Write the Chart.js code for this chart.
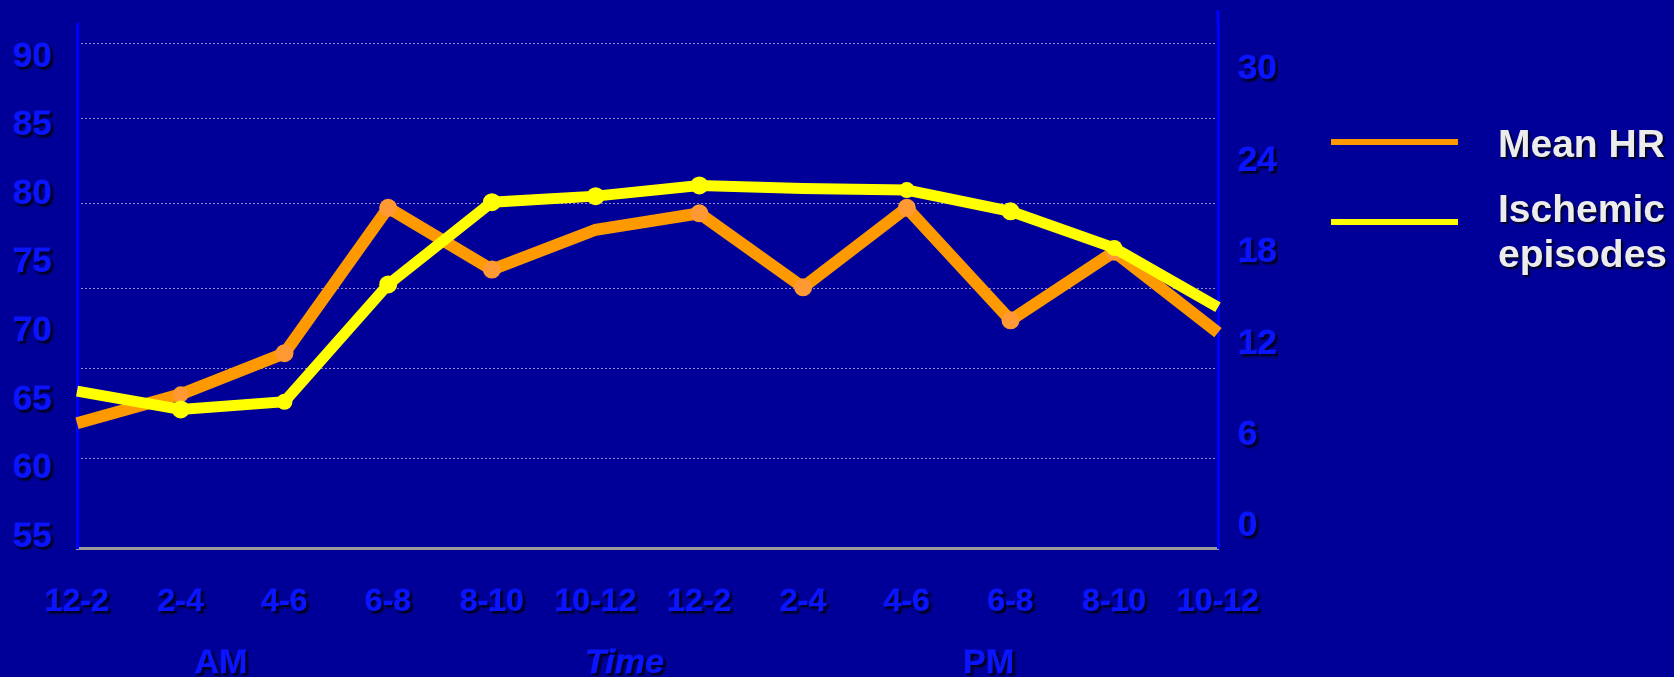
<!DOCTYPE html>
<html>
<head>
<meta charset="utf-8">
<title>Mean HR and ischemic episodes by time of day</title>
<script src="https://cdn.jsdelivr.net/npm/chart.js@4.4.1/dist/chart.umd.min.js"></script>
<style>
  html, body { margin: 0; padding: 0; background: #000099; }
  #wrap { width: 1674px; height: 677px; position: relative; }
</style>
</head>
<body>
<div id="wrap"><canvas id="chart"></canvas></div>
<script>
// two-hour slots, AM then PM
const slots = ['12-2', '2-4', '4-6', '6-8', '8-10', '10-12', '12-2', '2-4', '4-6', '6-8', '8-10', '10-12'];
const meanHR = [63.3, 65.4, 68.4, 79.0, 74.5, 77.4, 78.6, 73.2, 79.0, 70.8, 75.8, 69.9];
const ischemicEpisodes = [8.9, 7.7, 8.2, 15.9, 21.3, 21.7, 22.4, 22.2, 22.1, 20.7, 18.3, 14.4];

const hrTicks = [55, 60, 65, 70, 75, 80, 85, 90];
const episodeTicks = [0, 6, 12, 18, 24, 30];
// dotted guide lines, read in HR units
const gridLevels = [60.7, 67.25, 73.1, 79.35, 85.5, 91.0];
const periodLabels = ['AM', 'Time', 'PM'];

const FONT = 'Arial, "Liberation Sans", sans-serif';
const BLUE = '#0a14ff';

function setShadow(ctx) {
  ctx.shadowColor = 'rgba(0,0,20,0.95)';
  ctx.shadowOffsetX = 2;
  ctx.shadowOffsetY = 2;
  ctx.shadowBlur = 2;
}
function clearShadow(ctx) {
  ctx.shadowColor = 'rgba(0,0,0,0)';
  ctx.shadowOffsetX = 0;
  ctx.shadowOffsetY = 0;
  ctx.shadowBlur = 0;
}

// no label padding: the slide places its axes exactly
function noPad(s) {
  s.paddingTop = 0; s.paddingBottom = 0; s.paddingLeft = 0; s.paddingRight = 0;
}

const tickStyle = size => ({
  z: 1,
  color: BLUE,
  textStrokeColor: BLUE,
  textStrokeWidth: 1.2,
  font: { family: FONT, size, weight: 'bold' },
});

// slide look: shadowed axis text (tick labels sit on z 1, after the lines),
// side legend, AM / Time / PM captions
const slideDecor = {
  id: 'slideDecor',
  beforeDraw(chart) { clearShadow(chart.ctx); },
  afterDatasetsDraw(chart) { setShadow(chart.ctx); },
  afterDraw(chart) {
    const { ctx, chartArea } = chart;
    const x = chart.scales.x;
    ctx.save();
    clearShadow(ctx);

    // right axis runs a bit higher than the left one
    ctx.strokeStyle = '#0000ff';
    ctx.lineWidth = 3;
    ctx.beginPath();
    ctx.moveTo(chartArea.right, 10);
    ctx.lineTo(chartArea.right, chartArea.top + 1);
    ctx.stroke();

    // legend
    const lx0 = chartArea.right + 113, lx1 = chartArea.right + 240, tx = chartArea.right + 280;
    const maxW = chart.width - tx - 2;
    ctx.font = 'bold 39px ' + FONT;
    chart.data.datasets.forEach((ds, i) => {
      const rowY = chartArea.top + 118 + i * 80;
      clearShadow(ctx);
      ctx.fillStyle = ds.borderColor;
      ctx.fillRect(lx0, rowY - 3, lx1 - lx0, 6);

      // wrap label into lines that fit
      const words = ds.label.split(' ');
      const lines = [];
      let cur = '';
      words.forEach(w => {
        const t = cur ? cur + ' ' + w : w;
        if (cur && ctx.measureText(t).width > maxW) { lines.push(cur); cur = w; } else cur = t;
      });
      lines.push(cur);

      setShadow(ctx);
      ctx.fillStyle = '#ececec';
      ctx.textAlign = 'left';
      ctx.textBaseline = 'alphabetic';
      let by = rowY + 15 - (lines.length - 1) * 15;
      lines.forEach(l => { ctx.fillText(l, tx, by); by += 45; });
    });

    // AM / Time / PM under the slot labels
    const at = [1.39, 5.28, 8.79];
    setShadow(ctx);
    ctx.fillStyle = BLUE;
    ctx.strokeStyle = BLUE;
    ctx.lineWidth = 1.2;
    ctx.textAlign = 'center';
    ctx.textBaseline = 'middle';
    periodLabels.forEach((p, i) => {
      ctx.font = (p === 'Time' ? 'italic bold 34px ' : 'bold 34px ') + FONT;
      const px = x.getPixelForValue(at[i]), py = chartArea.bottom + 116;
      ctx.strokeText(p, px, py);
      ctx.fillText(p, px, py);
    });
    ctx.restore();
    clearShadow(ctx);
  }
};

new Chart(document.getElementById('chart'), {
  type: 'line',
  data: {
    labels: slots,
    datasets: [
      {
        label: 'Mean HR',
        data: meanHR,
        yAxisID: 'y',
        order: 1,
        borderColor: '#ff9900',
        borderWidth: 12,
        tension: 0,
        pointRadius: [0, 8, 9, 9, 9, 0, 9, 9, 9, 9, 9, 0],
        pointBackgroundColor: '#ff9933',
        pointBorderWidth: 0,
      },
      {
        label: 'Ischemic episodes',
        data: ischemicEpisodes,
        yAxisID: 'y1',
        order: 0,
        borderColor: '#ffff00',
        borderWidth: 11,
        tension: 0,
        pointRadius: [0, 9, 8, 9, 9, 9, 9, 0, 8, 9, 8, 0],
        pointBackgroundColor: '#ffff00',
        pointBorderWidth: 0,
      },
    ],
  },
  options: {
    responsive: true,
    maintainAspectRatio: false,
    animation: false,
    devicePixelRatio: 1,
    layout: { padding: { top: 24, right: 396, bottom: 0, left: 0 } },
    plugins: {
      legend: { display: false },
      tooltip: { enabled: false },
    },
    scales: {
      x: {
        type: 'category',
        offset: false,
        afterFit: s => { s.height = 129; noPad(s); },
        grid: { display: false, drawTicks: false },
        border: { color: '#999999', width: 3 },
        ticks: { ...tickStyle(32), padding: 35, autoSkip: false, maxRotation: 0 },
      },
      y: {
        type: 'linear',
        position: 'left',
        min: 54.2,
        max: 92.4,
        afterBuildTicks: s => { s.ticks = hrTicks.map(v => ({ value: v })); },
        afterFit: s => { s.width = 77; noPad(s); },
        grid: { display: false, drawTicks: false },
        border: { color: '#0000ff', width: 3 },
        ticks: { ...tickStyle(35), padding: 25 },
      },
      yGrid: {
        type: 'linear',
        position: 'left',
        min: 54.2,
        max: 92.4,
        afterBuildTicks: s => { s.ticks = gridLevels.map(v => ({ value: v })); },
        afterFit: s => { s.width = 0; noPad(s); },
        ticks: { display: false },
        border: { display: false, dash: [2, 2] },
        grid: { color: 'rgba(200,200,225,0.7)', lineWidth: 1, drawTicks: false },
      },
      y1: {
        type: 'linear',
        position: 'right',
        min: -1.4,
        max: 33,
        afterBuildTicks: s => { s.ticks = episodeTicks.map(v => ({ value: v })); },
        afterFit: s => { s.width = 60; noPad(s); },
        grid: { display: false, drawTicks: false },
        border: { color: '#0000ff', width: 3 },
        ticks: { ...tickStyle(35), padding: 20 },
      },
    },
  },
  plugins: [slideDecor],
});
</script>
</body>
</html>
